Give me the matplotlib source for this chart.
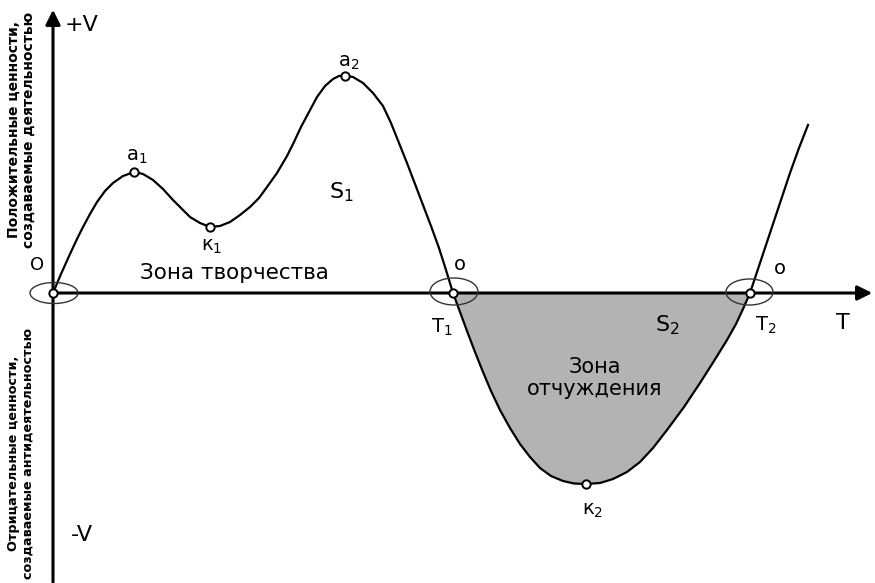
import matplotlib.pyplot as plt
import numpy as np
from matplotlib.patches import Ellipse

# curve points (T to the right, V up)
t = [0, 8, 17, 24, 30, 37, 44, 52, 60, 70, 81, 90, 100, 110, 120, 128, 137, 147, 157,
     167, 177, 187, 197, 206, 214, 224, 234, 241, 248, 256, 264, 272, 280, 286, 292,
     300, 310, 320, 330, 338, 346, 354, 362, 370, 378, 386, 393, 400, 407, 414,
     422, 430, 438, 447, 457, 467, 477, 487, 498, 510, 521, 533, 547, 560, 574, 587,
     600, 614, 631, 647, 661, 674, 683, 690, 697, 705, 713, 721, 729, 737, 746, 755]
v = [0, 19, 39, 54, 66, 79, 91, 102, 110, 117, 121, 119, 113, 104, 93, 85, 76, 70, 66,
     67, 71, 78, 86, 95, 106, 120, 137, 151, 166, 181, 196, 207, 214, 217, 217.5,
     216, 210, 200, 187, 170, 150, 130, 109, 88, 67, 45, 23, 0, -19, -38,
     -59, -79, -98, -117, -135, -151, -164, -175, -183, -188, -190.5, -191, -190, -186, -179, -169,
     -155, -137, -114, -90, -68, -47, -31, -16, 0, 24, 48, 72, 96, 120, 145, 168]

# marked points: O, a1, k1, a2, T1, k2, T2
mark_t = [0, 81, 157, 292, 400, 533, 697]
mark_v = [0, 121, 66, 217, 0, -191, 0]

t = np.array(t)
v = np.array(v)

fig = plt.figure(figsize=(8.75, 5.83), dpi=100)
ax = fig.add_axes([0, 0, 1, 1])
ax.set_xlim(-53, 822)
ax.set_ylim(-290, 293)
ax.axis('off')

# shaded zone (negative part)
ax.fill_between(t, v, 0, where=v <= 0, interpolate=True, color='#b3b3b3', lw=0, zorder=1)

# axes with arrows
ax.annotate('', xy=(0, 286), xytext=(0, -292),
            arrowprops=dict(arrowstyle='-|>', lw=2.2, color='black', mutation_scale=22), zorder=2)
ax.annotate('', xy=(822, 0), xytext=(-2, 0),
            arrowprops=dict(arrowstyle='-|>', lw=2.2, color='black', mutation_scale=22), zorder=2)

# curve
ax.plot(t, v, color='black', lw=1.6, zorder=3, solid_joinstyle='round')

# ellipses around zero points
for cx, cy, w, h in [(1, 0, 48, 21), (401, 1.5, 48, 27), (696.5, 1, 47, 26)]:
    ax.add_patch(Ellipse((cx, cy), w, h, fill=False, ec='#333333', lw=1, zorder=4))

ax.plot(mark_t, mark_v, 'o', ms=6, mfc='white', mec='black', mew=1.4, zorder=5)

# labels
ax.text(29, 268, '+V', fontsize=16, ha='center', va='center')
ax.text(29, -242, '-V', fontsize=16, ha='center', va='center')
ax.text(790, -30, 'T', fontsize=16, ha='center', va='center')
ax.text(-16, 28, 'O', fontsize=13, ha='center', va='center')
ax.text(407, 28, 'o', fontsize=14, ha='center', va='center')
ax.text(727, 24, 'o', fontsize=14, ha='center', va='center')
ax.text(389, -34, 'T$_1$', fontsize=14, ha='center', va='center')
ax.text(713, -32, 'T$_2$', fontsize=14, ha='center', va='center')
ax.text(84, 137, 'a$_1$', fontsize=14, ha='center', va='center')
ax.text(296, 231, 'a$_2$', fontsize=14, ha='center', va='center')
ax.text(159, 46, 'к$_1$', fontsize=14, ha='center', va='center')
ax.text(540, -218, 'к$_2$', fontsize=14, ha='center', va='center')
ax.text(288, 101, 'S$_1$', fontsize=16, ha='center', va='center')
ax.text(614, -32, 'S$_2$', fontsize=16, ha='center', va='center')
ax.text(181, 20, 'Зона творчества', fontsize=15.5, ha='center', va='center')
ax.text(542, -85, 'Зона\nотчуждения', fontsize=15, ha='center', va='center',
        linespacing=1.15)

ax.text(-32, 163, 'Положительные ценности,\nсоздаваемые деятельностью', fontsize=10,
        fontweight='bold', rotation=90, ha='center', va='center', linespacing=1.1)
ax.text(-32, -160, 'Отрицательные ценности,\nсоздаваемые антидеятельностью', fontsize=9.2,
        fontweight='bold', rotation=90, ha='center', va='center', linespacing=1.15)

plt.savefig('out.png', dpi=100)
